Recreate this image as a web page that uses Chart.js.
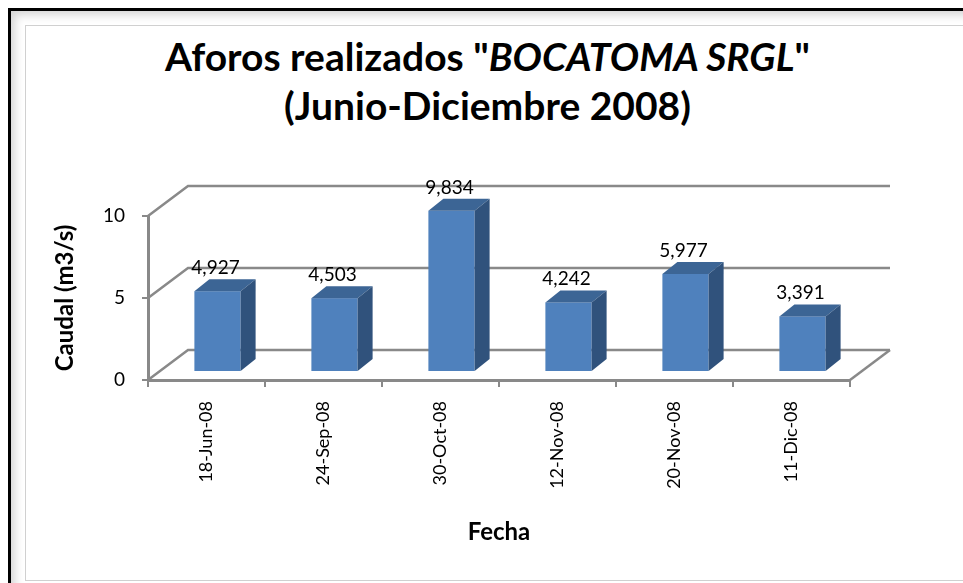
<!DOCTYPE html>
<html>
<head>
<meta charset="utf-8">
<script src="https://cdn.jsdelivr.net/npm/chart.js@4.4.1/dist/chart.umd.min.js"></script>
<style>
    body { margin: 0; background: #fff; }
    #wrap { position: relative; width: 963px; height: 583px; overflow: hidden; }
    #marco { position: absolute; left: 8px; top: 8px; width: 980px; height: 600px;
             border-left: 3px solid #000; border-top: 3px solid #000;
             box-shadow: inset 10px 10px 10px -6px #d4d4d4; }
    #interior { position: absolute; left: 25px; top: 25px; width: 960px; height: 554px;
                border: 1px solid #d0d0d0; background: #fff; }
    #titulo { position: absolute; left: 0; top: 32px; width: 975px; text-align: center;
              font: bold 39px Lato; line-height: 49px; color: #000; }
    canvas { position: absolute; left: 0; top: 0; }
</style>
</head>
<body>
<div id="wrap">
    <div id="marco"></div>
    <div id="interior"></div>
    <div id="titulo">Aforos realizados "<i>BOCATOMA SRGL</i>"<br>(Junio-Diciembre 2008)</div>
    <canvas id="grafico" width="963" height="583"></canvas>
</div>
<script>
// datos
const fechas = ['18-Jun-08', '24-Sep-08', '30-Oct-08', '12-Nov-08', '20-Nov-08', '11-Dic-08'];
const caudal = [4.927, 4.503, 9.834, 4.242, 5.977, 3.391];
const ticksY = [0, 5, 10];

// desplazamientos de la vista 3D (px)
const FONDO_X = 40, FONDO_Y = -30;   // pared del fondo
const BARRA_X = 11, BARRA_Y = -8;    // cara frontal de las barras
const PROF_X = 15, PROF_Y = -12;     // profundidad de cada barra
const GRIS = '#898989';

function formato(v) {
    return v.toFixed(3).replace('.', ',');
}

const efecto3d = {
    id: 'efecto3d',
    beforeDatasetsDraw(chart) {
        const ctx = chart.ctx;
        const a = chart.chartArea;
        const y = chart.scales.y;
        ctx.save();
        ctx.strokeStyle = GRIS;
        ctx.lineWidth = 2.5;
        ticksY.forEach(v => {
            const py = y.getPixelForValue(v);
            ctx.beginPath();
            ctx.moveTo(a.left, py);
            ctx.lineTo(a.left + FONDO_X, py + FONDO_Y);
            ctx.lineTo(a.right + FONDO_X, py + FONDO_Y);
            ctx.stroke();
        });
        // borde derecho del piso
        const p0 = y.getPixelForValue(0);
        ctx.beginPath();
        ctx.moveTo(a.right, p0);
        ctx.lineTo(a.right + FONDO_X, p0 + FONDO_Y);
        ctx.stroke();
        ctx.restore();
    },
    afterDatasetsDraw(chart) {
        const ctx = chart.ctx;
        const meta = chart.getDatasetMeta(0);
        ctx.save();
        meta.data.forEach((bar, i) => {
            const p = bar.getProps(['x', 'y', 'base', 'width'], true);
            const l = p.x - p.width / 2 + BARRA_X;
            const r = p.x + p.width / 2 + BARRA_X;
            const t = p.y + BARRA_Y;
            const b = p.base + BARRA_Y;

            ctx.fillStyle = '#4f81bd';
            ctx.fillRect(l, t, r - l, b - t);

            // cara superior
            ctx.fillStyle = '#3c6595';
            ctx.beginPath();
            ctx.moveTo(l, t);
            ctx.lineTo(l + PROF_X, t + PROF_Y);
            ctx.lineTo(r + PROF_X, t + PROF_Y);
            ctx.lineTo(r, t);
            ctx.closePath();
            ctx.fill();

            // cara lateral
            ctx.fillStyle = '#30527c';
            ctx.beginPath();
            ctx.moveTo(r, t);
            ctx.lineTo(r + PROF_X, t + PROF_Y);
            ctx.lineTo(r + PROF_X, b + PROF_Y);
            ctx.lineTo(r, b);
            ctx.closePath();
            ctx.fill();

            // etiqueta
            ctx.fillStyle = '#000';
            ctx.font = '19px Lato';
            ctx.textAlign = 'center';
            ctx.textBaseline = 'alphabetic';
            ctx.fillText(formato(caudal[i]), p.x + BARRA_X - 2, t - 17);
        });
        ctx.restore();
    }
};

new Chart(document.getElementById('grafico'), {
    type: 'bar',
    data: {
        labels: fechas,
        datasets: [{
            label: 'Caudal',
            data: caudal,
            backgroundColor: 'rgba(0,0,0,0)',
            categoryPercentage: 1,
            barPercentage: 0.395
        }]
    },
    options: {
        responsive: false,
        animation: false,
        layout: { padding: { left: 30, right: 113, top: 216, bottom: 20 } },
        plugins: {
            legend: { display: false },
            tooltip: { enabled: false }
        },
        scales: {
            x: {
                grid: { drawOnChartArea: false, tickLength: 7, color: GRIS, lineWidth: 2, offset: true },
                border: { color: GRIS, width: 3 },
                ticks: { minRotation: 90, maxRotation: 90, padding: 14, color: '#000',
                         font: { family: 'Lato', size: 18 } },
                title: { display: true, text: 'Fecha', color: '#000',
                         font: { family: 'Lato', weight: 'bold', size: 24 },
                         padding: { top: 0, bottom: 16 } },
                afterFit(s) { s.height = 183; }
            },
            y: {
                min: 0,
                max: 10,
                afterBuildTicks(s) { s.ticks = ticksY.map(v => ({ value: v })); },
                grid: { drawOnChartArea: false, tickLength: 6, color: GRIS, lineWidth: 2 },
                border: { color: GRIS, width: 3 },
                ticks: { padding: 17, color: '#000', font: { family: 'Lato', size: 19 } },
                title: { display: true, text: 'Caudal (m3/s)', color: '#000',
                         font: { family: 'Lato', weight: 'bold', size: 24 },
                         padding: { top: 21, bottom: 0 } },
                afterFit(s) { s.width = 118; }
            }
        }
    },
    plugins: [efecto3d]
});
</script>
</body>
</html>
